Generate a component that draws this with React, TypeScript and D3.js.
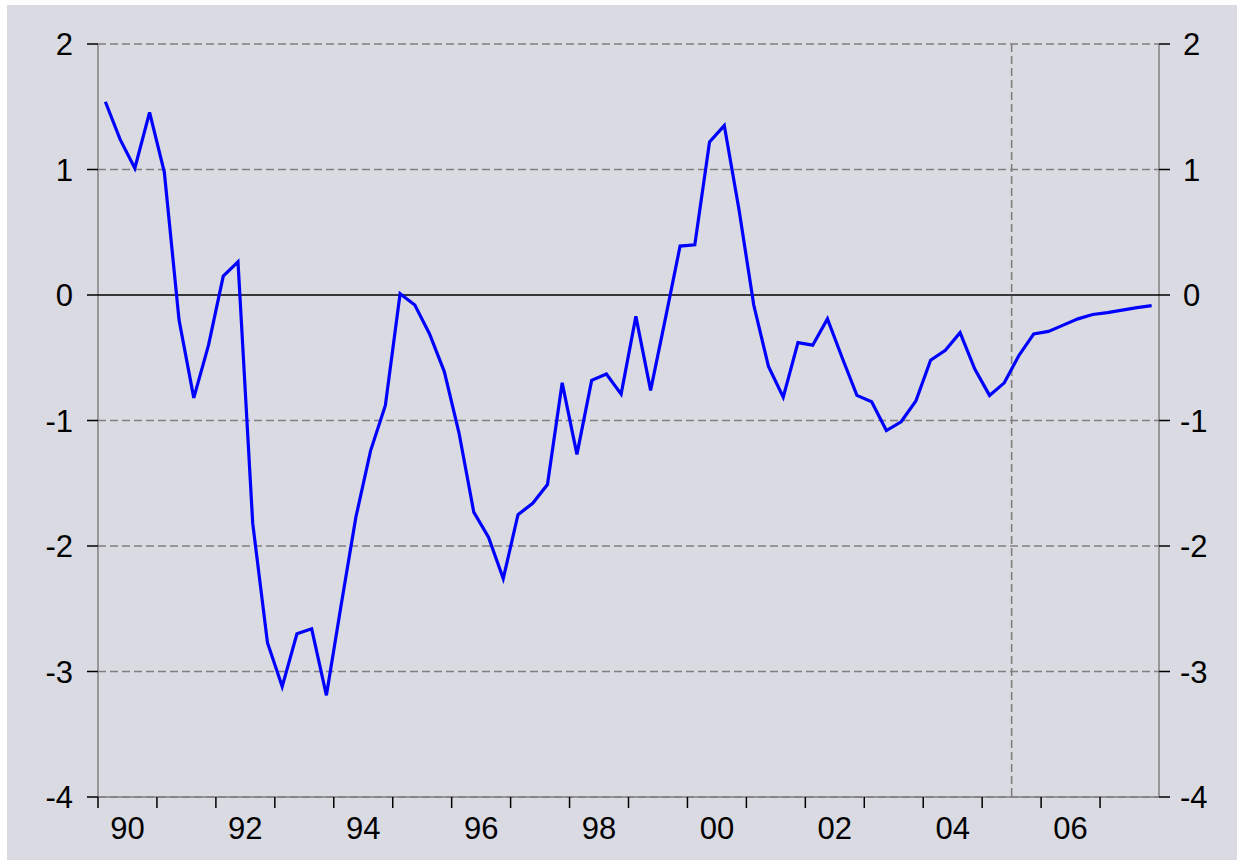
import React from "react";
import * as d3 from "d3";

// Quarterly values, 1990Q1 .. 2007Q4
const startYear = 1990;
const values: number[] = [
  1.54, 1.24, 1.01, 1.455,
  0.98, -0.2, -0.82, -0.4,
  0.15, 0.265, -1.82, -2.77,
  -3.12, -2.7, -2.66, -3.19,
  -2.47, -1.77, -1.24, -0.88,
  0.01, -0.08, -0.31, -0.61,
  -1.1, -1.73, -1.93, -2.26,
  -1.75, -1.66, -1.51, -0.7,
  -1.27, -0.68, -0.63, -0.79,
  -0.17, -0.76, -0.19, 0.39,
  0.4, 1.22, 1.35, 0.68,
  -0.08, -0.57, -0.815, -0.38,
  -0.4, -0.19, -0.5, -0.8,
  -0.85, -1.08, -1.01, -0.845,
  -0.52, -0.44, -0.3, -0.59,
  -0.8, -0.7, -0.48, -0.31,
  -0.29, -0.24, -0.19, -0.155,
  -0.14, -0.12, -0.1, -0.085,
];
const yTicks = [2, 1, 0, -1, -2, -3, -4];
const xTickYears = d3.range(1990, 2008);
const xLabelYears = [1990, 1992, 1994, 1996, 1998, 2000, 2002, 2004, 2006];
const forecastStart = 2005.5;

const W = 1237;
const H = 860;
const left = 98;
const right = 1159;
const top = 44;
const bottom = 797;
const font = "'Liberation Sans', Arial, sans-serif";

export default function App() {
  const x = d3.scaleLinear().domain([1990, 2008]).range([left, right]);
  const y = d3.scaleLinear().domain([-4, 2]).range([bottom, top]);
  const pts = values.map((v, i) => [startYear + (i + 0.5) / 4, v] as [number, number]);
  const line = d3
    .line<[number, number]>()
    .x((d) => x(d[0]))
    .y((d) => y(d[1]));

  return (
    <svg
      width={W}
      height={H}
      style={{ position: "absolute", left: 0, top: 0, display: "block" }}
    >
      <rect x={0} y={0} width={W} height={H} fill="#ffffff" />
      <rect x={7} y={5} width={W - 7} height={H - 5} fill="#d9dae2" />
      {yTicks
        .filter((t) => t !== 0)
        .map((t) => (
          <line
            key={"g" + t}
            x1={left}
            x2={right}
            y1={y(t)}
            y2={y(t)}
            stroke="#808080"
            strokeWidth={1.6}
            strokeDasharray="8,4"
          />
        ))}
      <line
        x1={x(forecastStart)}
        x2={x(forecastStart)}
        y1={top}
        y2={bottom}
        stroke="#808080"
        strokeWidth={1.6}
        strokeDasharray="8,4"
      />
      <line x1={left} x2={left} y1={top} y2={bottom} stroke="#808080" strokeWidth={1.5} />
      <line x1={right} x2={right} y1={top} y2={bottom} stroke="#808080" strokeWidth={1.5} />
      <line x1={left} x2={right} y1={bottom} y2={bottom} stroke="#808080" strokeWidth={1.5} />
      <line x1={left} x2={right} y1={y(0)} y2={y(0)} stroke="#000000" strokeWidth={1.5} />
      {yTicks.map((t) => (
        <g key={"yt" + t}>
          <line x1={left - 11} x2={left} y1={y(t)} y2={y(t)} stroke="#000" strokeWidth={1.5} />
          <line x1={right} x2={right + 11} y1={y(t)} y2={y(t)} stroke="#000" strokeWidth={1.5} />
          <text
            x={73}
            y={y(t)}
            dy="0.36em"
            textAnchor="end"
            fontFamily={font}
            fontSize={31}
            fill="#000"
          >
            {t}
          </text>
          <text
            x={t < 0 ? 1180 : 1183}
            y={y(t)}
            dy="0.36em"
            textAnchor="start"
            fontFamily={font}
            fontSize={31}
            fill="#000"
          >
            {t}
          </text>
        </g>
      ))}
      {xTickYears.map((yr) => (
        <line
          key={"xt" + yr}
          x1={x(yr)}
          x2={x(yr)}
          y1={bottom}
          y2={bottom + 11}
          stroke="#000"
          strokeWidth={1.5}
        />
      ))}
      {xLabelYears.map((yr) => (
        <text
          key={"xl" + yr}
          x={x(yr + 0.5)}
          y={839}
          textAnchor="middle"
          fontFamily={font}
          fontSize={31}
          fill="#000"
        >
          {String(yr % 100).padStart(2, "0")}
        </text>
      ))}
      <path d={line(pts) || ""} fill="none" stroke="#0000ff" strokeWidth={3.2} strokeLinejoin="miter" />
    </svg>
  );
}
